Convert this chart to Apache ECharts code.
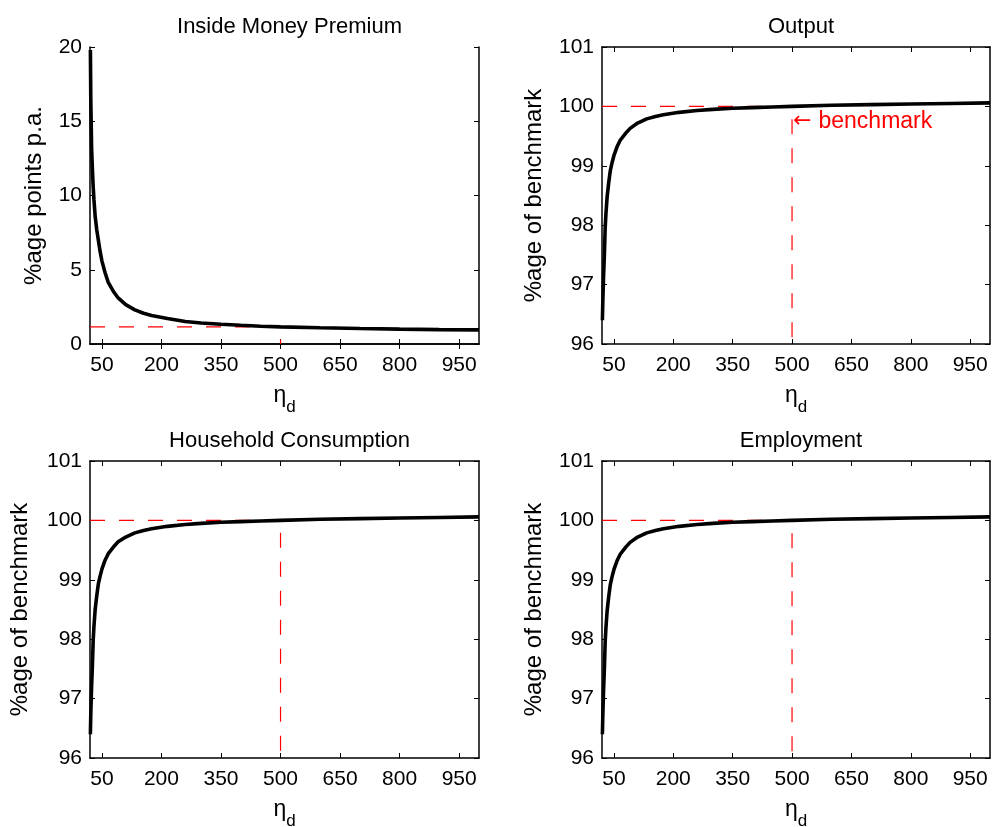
<!DOCTYPE html>
<html>
<head>
<meta charset="utf-8">
<script src="https://cdn.jsdelivr.net/npm/echarts@6/dist/echarts.min.js"></script>
<style>
html,body{margin:0;padding:0;background:#fff;}
#c{width:992px;height:827px;}
</style>
</head>
<body>
<div id="c"></div>
<script>
// ---- data ----
var etaD = [21, 22, 24, 26, 28, 30, 33, 37, 41, 45, 50, 58, 66, 80, 91, 110, 133, 155, 175, 215, 260, 300, 350, 400, 450, 500, 600, 700, 800, 900, 1000];
var premium = [19.8, 16.5, 13.2, 11.8, 10.6, 9.7, 8.6, 7.7, 7.0, 6.3, 5.6, 4.8, 4.15, 3.5, 3.1, 2.65, 2.3, 2.07, 1.92, 1.72, 1.52, 1.41, 1.33, 1.26, 1.2, 1.15, 1.09, 1.04, 1.0, 0.97, 0.95];
var output = [96.4, 96.7, 97.15, 97.5, 97.95, 98.2, 98.48, 98.72, 98.92, 99.04, 99.17, 99.32, 99.43, 99.55, 99.63, 99.72, 99.79, 99.83, 99.86, 99.9, 99.93, 99.95, 99.97, 99.98, 99.99, 100.0, 100.02, 100.03, 100.04, 100.05, 100.06];
var consumption = [96.4, 96.75, 97.2, 97.55, 97.98, 98.22, 98.5, 98.73, 98.93, 99.05, 99.18, 99.33, 99.44, 99.56, 99.64, 99.72, 99.79, 99.83, 99.86, 99.9, 99.93, 99.95, 99.97, 99.98, 99.99, 100.0, 100.02, 100.03, 100.04, 100.05, 100.06];
var employment = [96.4, 96.7, 97.15, 97.5, 97.95, 98.2, 98.48, 98.72, 98.92, 99.04, 99.17, 99.32, 99.43, 99.55, 99.63, 99.72, 99.79, 99.83, 99.86, 99.9, 99.93, 99.95, 99.97, 99.98, 99.99, 100.0, 100.02, 100.03, 100.04, 100.05, 100.06];
var xTicks = [50, 200, 350, 500, 650, 800, 950];
var benchmarkEta = 500;
var benchmarkPremium = 1.15;
var benchmarkLevel = 100;
var benchmarkNoteY = 99.75;
var titles = ['Inside Money Premium', 'Output', 'Household Consumption', 'Employment'];
var yNames = ['%age points p.a.', '%age of benchmark', '%age of benchmark', '%age of benchmark'];

// ---- layout ----
var FONT = 'Liberation Sans, Arial, Helvetica, sans-serif';
var grids = [
  {left: 90, top: 47, width: 389, height: 297},
  {left: 602, top: 47, width: 388, height: 297},
  {left: 90, top: 461, width: 389, height: 297},
  {left: 602, top: 461, width: 388, height: 297}
].map(function (g) { g.containLabel = false; g.outerBoundsMode = 'none'; return g; });
var yRanges = [[0, 20, 5], [96, 101, 1], [96, 101, 1], [96, 101, 1]];
var nameGaps = [44, 56, 58, 56];
var seriesVals = [premium, output, consumption, employment];

function zip(xs, ys) { return xs.map(function (x, i) { return [x, ys[i]]; }); }

var axisLineStyle = {color: '#000', width: 1.5};
var xAxes = [], yAxes = [], series = [], titleArr = [];
grids.forEach(function (g, i) {
  var common = {
    type: 'value', gridIndex: i, min: 20, max: 1000,
    axisLine: {show: true, lineStyle: axisLineStyle},
    axisTick: {show: true, inside: true, length: 5, lineStyle: {color: '#000', width: 1}, customValues: xTicks},
    splitLine: {show: false}
  };
  xAxes.push(Object.assign({}, common, {
    position: 'bottom',
    axisLabel: {show: true, customValues: xTicks, color: '#000', fontSize: 21, fontFamily: FONT, margin: 11},
    name: '{e|η}{s|d}', nameLocation: 'middle', nameGap: 40,
    nameTextStyle: {
      color: '#000', fontFamily: FONT,
      rich: {
        e: {fontSize: 23, fontFamily: FONT, color: '#000', lineHeight: 22, verticalAlign: 'top'},
        s: {fontSize: 17, fontFamily: FONT, color: '#000', lineHeight: 32, verticalAlign: 'bottom'}
      }
    }
  }));
  xAxes.push(Object.assign({}, common, {position: 'top', axisLabel: {show: false}}));
  var yr = yRanges[i];
  var ycommon = {
    type: 'value', gridIndex: i, min: yr[0], max: yr[1], interval: yr[2],
    axisLine: {show: true, lineStyle: axisLineStyle},
    axisTick: {show: true, inside: true, length: 5, lineStyle: {color: '#000', width: 1}},
    splitLine: {show: false}
  };
  yAxes.push(Object.assign({}, ycommon, {
    position: 'left',
    axisLabel: {show: true, color: '#000', fontSize: 21, fontFamily: FONT, margin: 8},
    name: yNames[i], nameLocation: 'middle', nameGap: nameGaps[i],
    nameTextStyle: {color: '#000', fontSize: 24, fontFamily: FONT}
  }));
  yAxes.push(Object.assign({}, ycommon, {position: 'right', axisLabel: {show: false}}));

  titleArr.push({
    text: titles[i], left: g.left + g.width / 2, top: g.top - 36, textAlign: 'center',
    textStyle: {color: '#000', fontSize: 22, fontWeight: 'normal', fontFamily: FONT}
  });

  var refY = (i === 0) ? benchmarkPremium : benchmarkLevel;
  var series0 = {
    type: 'line', xAxisIndex: 2 * i, yAxisIndex: 2 * i,
    data: [[20, refY], [benchmarkEta, refY], [benchmarkEta, yr[0]]],
    showSymbol: false, silent: true,
    lineStyle: {color: '#ff0000', width: 1.2, type: [15, 14]},
    z: 2
  };
  if (i === 1) {
    series0.markPoint = {
      symbol: 'circle', symbolSize: 0, silent: true,
      data: [{coord: [benchmarkEta, benchmarkNoteY]}],
      label: {show: true, position: 'right', distance: 1,
        formatter: '{a|←}{t|benchmark}',
        rich: {
          a: {fontSize: 22, fontFamily: 'DejaVu Sans', color: '#ff0000', padding: [0, 7, 0, 0]},
          t: {fontSize: 23, fontFamily: FONT, color: '#ff0000'}
        }
      }
    };
  }
  series.push(series0);
  series.push({
    type: 'line', xAxisIndex: 2 * i, yAxisIndex: 2 * i,
    data: zip(etaD, seriesVals[i]),
    showSymbol: false, smooth: false, silent: true,
    lineStyle: {color: '#000', width: 3.6},
    z: 3
  });
});

var chart = echarts.init(document.getElementById('c'), null, {renderer: 'canvas'});
chart.setOption({
  animation: false,
  backgroundColor: '#fff',
  title: titleArr,
  grid: grids,
  xAxis: xAxes,
  yAxis: yAxes,
  series: series
});
</script>
</body>
</html>
